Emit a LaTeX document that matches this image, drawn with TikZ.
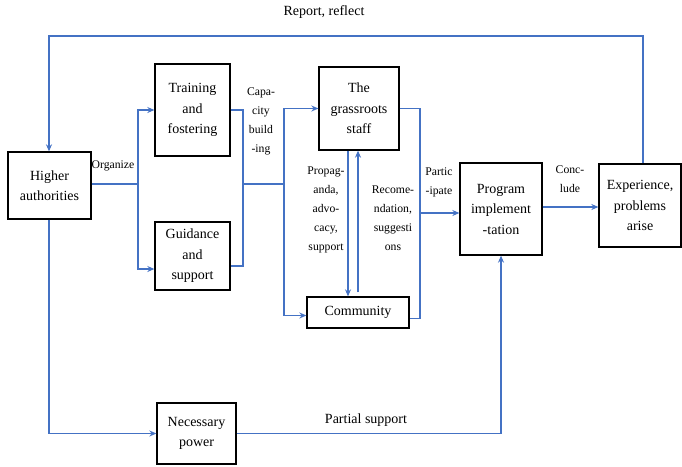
\documentclass[tikz,border=0pt]{standalone}
\usepackage{fontspec}
\setmainfont{Liberation Serif}
\newfontfamily\tnr{Liberation Serif}
\usetikzlibrary{calc,arrows.meta}
\definecolor{lnblue}{RGB}{68,114,196}
\tikzset{
  box/.style={draw=black,line width=1.3pt,inner sep=0pt,align=center,
    font=\tnr\fontsize{14}{20.5}\selectfont},
  lab/.style={inner sep=0pt,align=center,font=\tnr\fontsize{11.7}{19}\selectfont},
  biglab/.style={inner sep=0pt,align=center,font=\tnr\fontsize{14}{18}\selectfont},
  conn/.style={draw=lnblue,line width=1.2pt},
  arr/.style={conn,-{Stealth[length=7pt,width=6pt]}}
}
\begin{document}
\begin{tikzpicture}[x=1pt,y=-1pt]
\useasboundingbox (0,0) rectangle (682,466);
% boxes
\node[box,minimum width=83pt,minimum height=67pt] (ha) at (49.5,185.5) {Higher\\authorities};
\node[box,minimum width=75pt,minimum height=92pt] (tr) at (192.5,110) {Training\\and\\fostering};
\node[box,minimum width=75pt,minimum height=68pt] (gd) at (192.5,256) {Guidance\\and\\support};
\node[box,minimum width=80pt,minimum height=83pt] (gs) at (359,108.5) {The\\grassroots\\staff};
\node[box,minimum width=102pt,minimum height=31pt] (cm) at (358,312.5) {Community};
\node[box,minimum width=82pt,minimum height=92pt] (pg) at (501,209) {Program\\implement\\-tation};
\node[box,minimum width=82pt,minimum height=83pt] (ex) at (640,205.5) {Experience,\\problems\\arise};
\node[box,minimum width=79pt,minimum height=61pt] (np) at (196.5,433.5) {Necessary\\power};
% junction coordinates
\coordinate (j1) at (138,184);
\coordinate (j2) at (243,184);
\coordinate (j3) at (284,184);
\coordinate (xd) at (348,0);
\coordinate (xu) at (358,0);
\coordinate (j5) at (420,213);
\coordinate (top) at (320,36);
\coordinate (xl) at (49,0);
% connectors
\draw[conn] (ha.east |- j1) -- (j1);
\draw[arr] (j1) |- (tr.west);
\draw[arr] (j1) |- ($(gd.west)+(0,13)$);
\draw[conn] (tr.east) -| (j2) |- ($(gd.east)+(0,10)$);
\draw[conn] (j2) -- (j3);
\draw[arr] (j3) |- (gs.west);
\draw[arr] (j3) |- ($(cm.west)+(0,3)$);
\draw[arr] (gs.south -| xd) -- (cm.north -| xd);
\draw[arr] ($(cm.north -| xu)+(0,-4)$) -- (gs.south -| xu);
\draw[conn] (gs.east) -| (j5) |- ($(cm.east)+(0,6)$);
\draw[arr] (j5) -- (pg.west |- j5);
\draw[arr] ($(pg.east)+(0,-2)$) -- ($(pg.east -| ex.west)+(0,-2)$);
\draw[arr] ($(ex.north)+(3,0)$) |- (top) -| (ha.north -| xl);
\draw[arr] (ha.south -| xl) |- (np.west);
\draw[arr] (np.east) -| (pg.south);
% labels
\node[biglab] (l1) at (324,12) {Report, reflect};
\node[lab] (l2) at (113,166) {Organize};
\node[lab] (l3) at (261,121) {Capa-\\city\\build\\-ing};
\node[lab] (l4) at (326,210) {Propag-\\anda,\\advo-\\cacy,\\support};
\node[lab] (l5) at (393,218) {Recome-\\ndation,\\suggesti\\ons};
\node[lab] (l6) at (439,182) {Partic\\-ipate};
\node[lab] (l7) at (570,179) {Conc-\\lude};
\node[biglab] (l8) at (366,420) {Partial support};
\end{tikzpicture}
\end{document}
